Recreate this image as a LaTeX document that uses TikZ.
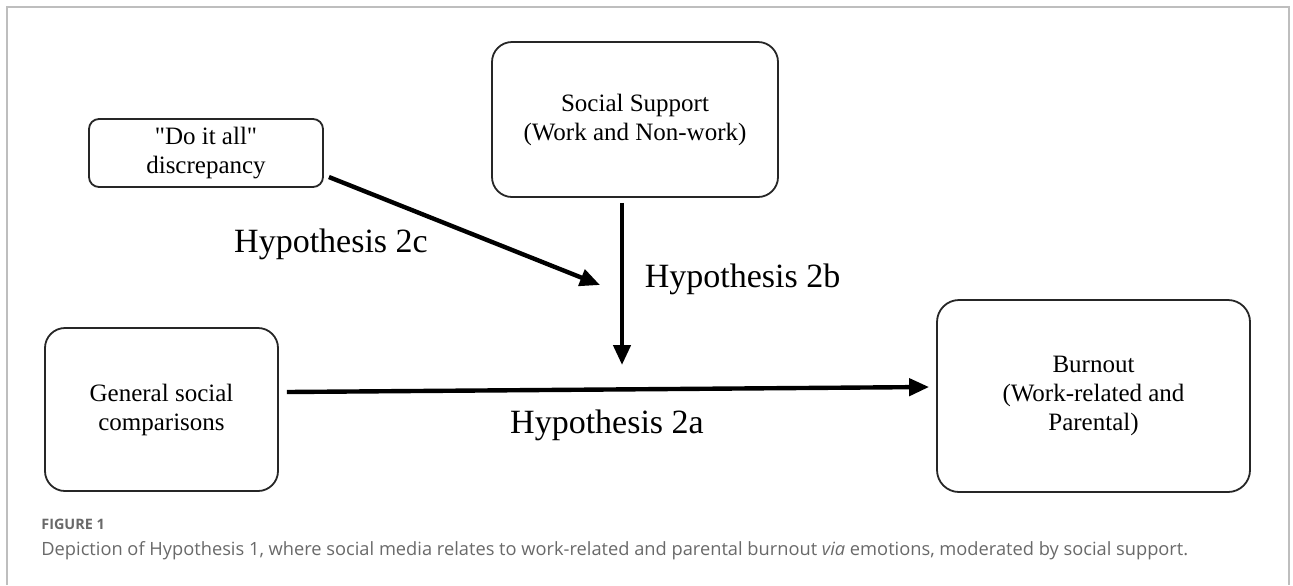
\documentclass[tikz,border=0pt]{standalone}
\usepackage{fontspec}
\setmainfont{Liberation Serif}
\newfontfamily\captionfont{Open Sans}
\usetikzlibrary{arrows.meta,positioning}
\tikzset{
hyp_box/.style={
	% The shape:
	rectangle,
	rounded corners=10pt,
	% The border:
	draw=black!85,
	line width=0.9pt,
	% The text:
	align=center,
	inner sep=0pt,
	font=\fontsize{12.5}{14.5}\selectfont
},
hyp_label/.style={
	% placed by its baseline
	anchor=base,
	inner sep=0pt,
	font=\fontsize{17}{20}\selectfont
},
hyp_arrow/.style={
	-{Triangle[length=10pt,width=8.5pt]},
	line width=2.2pt
},
cap_text/.style={
	anchor=base west,
	inner sep=0pt,
	text=captiongray
}
}
\definecolor{framegray}{RGB}{190,190,190}
\definecolor{captiongray}{RGB}{105,105,105}

\begin{document}
\begin{tikzpicture}[x=0.5pt,y=-0.5pt]
	\useasboundingbox (0,0) rectangle (1293,585);
	% frame round figure and caption
	\draw[framegray,line width=1pt] (7,585) -- (7,7) -- (1289,7) -- (1289,585);

	\node[hyp_box,minimum width=117pt,minimum height=34pt,rounded corners=5pt] (doit) at (206,153) {\textquotedbl Do it all\textquotedbl\\discrepancy};
	\node[hyp_box,minimum width=143pt,minimum height=77.5pt] (support) at (635,119.5) {Social Support\\(Work and Non-work)};
	\node[hyp_box,minimum width=116.5pt,minimum height=81.5pt] (gsc) at (161.5,409.5) {General social\\comparisons};
	\node[hyp_box,minimum width=156.5pt,minimum height=96pt,rounded corners=11pt] (burnout) at (1093.5,396) {Burnout\\(Work-related and\\Parental)};

	% arrow ends
	\coordinate (mod2c) at (600,285);
	\coordinate (mod2b) at (622,365);

	\draw[hyp_arrow] ([xshift=2.5pt,yshift=-12pt]doit.east) -- (mod2c);
	\draw[hyp_arrow] ([xshift=-6.5pt,yshift=-2.5pt]support.south) -- (mod2b);
	\draw[hyp_arrow] ([xshift=4pt,yshift=8.75pt]gsc.east) -- ([xshift=-3.5pt,yshift=4.5pt]burnout.west);

	\node[hyp_label] (h2c) at (331,252) {Hypothesis 2c};
	\node[hyp_label] (h2b) at (742.5,287) {Hypothesis 2b};
	\node[hyp_label] (h2a) at (607,433) {Hypothesis 2a};

	% caption
	\node[cap_text,font=\captionfont\fontsize{7.2}{8}\selectfont\bfseries] (fignum) at (41,529) {FIGURE 1};
	\node[cap_text,font=\captionfont\fontsize{9.13}{10}\selectfont] (caption) at (41,555) {Depiction of Hypothesis 1, where social media relates to work-related and parental burnout \textit{via} emotions, moderated by social support.};
\end{tikzpicture}
\end{document}
